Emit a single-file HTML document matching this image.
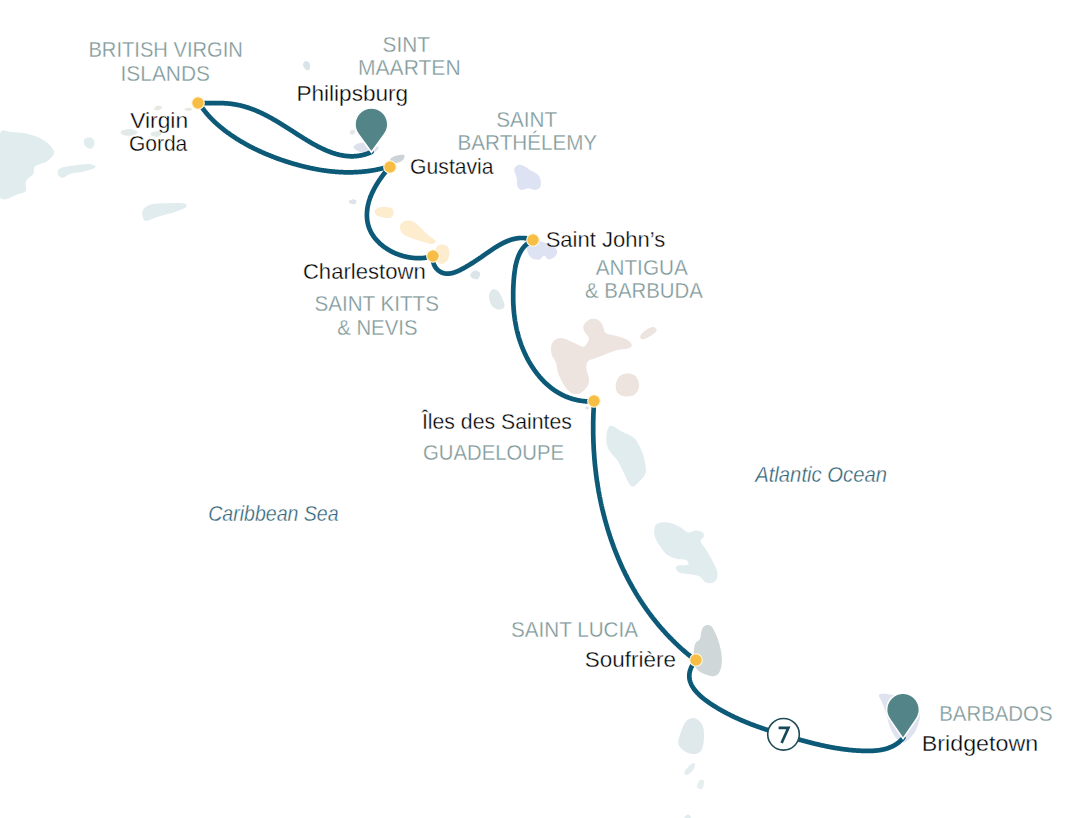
<!DOCTYPE html><html><head><meta charset="utf-8"><style>html,body{margin:0;padding:0;background:#fff;overflow:hidden}svg{display:block}text{font-family:"Liberation Sans",sans-serif}</style></head><body>
<svg width="1080" height="818" viewBox="0 0 1080 818">
<rect width="1080" height="818" fill="#ffffff"/>
<path d="M0.0,133.0 C2.7,127.5 6.4,131.8 11.0,132.0 C15.6,132.2 22.5,132.7 27.8,133.9 C33.1,135.1 38.6,137.1 42.6,139.4 C46.6,141.7 50.0,145.3 51.9,147.8 C53.8,150.3 54.6,152.0 53.7,154.3 C52.8,156.6 49.4,159.7 46.3,161.7 C43.2,163.7 37.4,164.3 35.2,166.3 C33.0,168.3 34.8,171.2 33.3,173.7 C31.7,176.2 27.1,178.3 25.9,181.1 C24.7,183.9 27.1,188.2 25.9,190.4 C24.7,192.6 22.8,192.9 18.5,194.1 C14.2,195.3 3.9,202.7 0.0,197.8 C-3.9,193.0 -5.0,175.8 -5.0,165.0 C-5.0,154.2 -2.7,138.5 0.0,133.0Z" fill="#e0ecee"/>
<path d="M84.0,140.0 C84.5,138.6 86.5,137.8 88.0,137.6 C89.5,137.4 91.9,137.9 93.0,139.0 C94.1,140.1 94.7,142.4 94.4,144.0 C94.1,145.6 92.6,148.4 91.0,148.7 C89.4,149.0 86.2,147.4 85.0,146.0 C83.8,144.6 83.5,141.4 84.0,140.0Z" fill="#e0ecee"/>
<path d="M58.3,170.0 C59.1,168.6 60.4,168.0 63.0,167.2 C65.6,166.4 69.7,165.9 74.0,165.4 C78.3,164.9 85.3,163.8 88.9,164.0 C92.5,164.2 94.8,165.5 95.4,166.3 C96.0,167.1 94.9,168.1 92.6,169.0 C90.3,169.9 85.2,171.1 81.5,171.9 C77.8,172.7 73.5,172.7 70.4,173.7 C67.3,174.7 65.0,177.5 63.0,177.8 C61.0,178.1 59.1,176.9 58.3,175.6 C57.5,174.3 57.5,171.4 58.3,170.0Z" fill="#e0ecee"/>
<path d="M143.5,208.9 C145.1,206.9 148.0,205.2 151.9,204.3 C155.8,203.4 161.5,203.5 166.7,203.3 C171.9,203.1 180.1,202.7 183.3,203.3 C186.5,203.9 187.3,205.6 186.1,207.0 C184.9,208.4 180.4,210.1 175.9,211.7 C171.4,213.2 164.2,214.8 159.3,216.3 C154.4,217.8 149.1,220.9 146.3,220.9 C143.5,220.9 143.1,218.3 142.6,216.3 C142.1,214.3 141.9,210.9 143.5,208.9Z" fill="#e0ecee"/>
<path d="M121.0,131.0 C122.2,130.0 127.2,128.7 130.0,128.9 C132.8,129.1 137.5,130.9 137.8,132.0 C138.1,133.1 134.5,135.1 132.0,135.6 C129.5,136.1 124.8,135.8 123.0,135.0 C121.2,134.2 119.8,132.0 121.0,131.0Z" fill="#e3ebea"/>
<path d="M151.0,133.0 C151.8,132.2 155.2,131.0 157.0,131.0 C158.8,131.0 161.8,132.1 162.0,133.0 C162.2,133.9 159.7,136.2 158.0,136.7 C156.3,137.2 153.2,136.6 152.0,136.0 C150.8,135.4 150.2,133.8 151.0,133.0Z" fill="#e3ebea"/>
<path d="M154.4,108.0 C154.9,107.3 156.7,105.7 158.0,105.6 C159.3,105.5 162.0,106.8 162.2,107.5 C162.4,108.2 160.2,109.6 159.0,110.0 C157.8,110.4 155.8,110.3 155.0,110.0 C154.2,109.7 153.9,108.7 154.4,108.0Z" fill="#e9e8e0"/>
<path d="M184.4,109.0 C184.7,108.5 188.7,107.6 190.0,107.8 C191.3,108.0 192.3,109.5 192.0,110.0 C191.7,110.5 189.3,111.2 188.0,111.0 C186.7,110.8 184.1,109.5 184.4,109.0Z" fill="#e9e8e0"/>
<path d="M303.0,64.0 C303.2,62.7 304.8,61.0 306.0,61.0 C307.2,61.0 309.5,62.5 310.0,64.0 C310.5,65.5 309.8,69.2 309.0,70.0 C308.2,70.8 306.0,70.0 305.0,69.0 C304.0,68.0 302.8,65.3 303.0,64.0Z" fill="#d9e4e8"/>
<path d="M349.5,132.0 C349.7,131.2 352.0,129.7 353.0,129.7 C354.0,129.7 355.7,131.2 355.5,132.0 C355.3,132.8 353.0,134.8 352.0,134.8 C351.0,134.8 349.3,132.8 349.5,132.0Z" fill="#e3e6ec"/>
<path d="M353.5,147.0 C353.5,145.5 356.9,143.5 360.0,143.0 C363.1,142.5 368.9,143.2 372.0,144.0 C375.1,144.8 378.8,146.5 378.8,148.0 C378.8,149.5 375.1,152.3 372.0,153.0 C368.9,153.7 363.1,153.0 360.0,152.0 C356.9,151.0 353.5,148.5 353.5,147.0Z" fill="#dde1ee"/>
<path d="M390.0,160.0 C389.8,158.8 392.7,156.8 395.0,156.0 C397.3,155.2 402.7,154.3 404.0,155.0 C405.3,155.7 404.3,158.7 403.0,160.0 C401.7,161.3 398.2,163.0 396.0,163.0 C393.8,163.0 390.2,161.2 390.0,160.0Z" fill="#cdd3d8"/>
<path d="M348.5,202.0 C348.2,201.2 350.6,199.6 352.0,199.4 C353.4,199.2 356.3,200.2 356.6,201.0 C356.9,201.8 355.4,204.2 354.0,204.4 C352.6,204.6 348.8,202.8 348.5,202.0Z" fill="#dbe4e8"/>
<path d="M374.5,211.0 C374.8,209.5 377.2,207.7 380.0,207.2 C382.8,206.7 388.7,207.0 391.0,208.0 C393.3,209.0 393.8,211.3 393.6,213.0 C393.4,214.7 392.6,217.5 390.0,218.0 C387.4,218.5 380.6,217.2 378.0,216.0 C375.4,214.8 374.2,212.5 374.5,211.0Z" fill="#fdecce"/>
<path d="M400.0,226.0 C400.3,224.1 402.0,222.3 404.0,221.5 C406.0,220.7 409.3,220.1 412.0,221.0 C414.7,221.9 417.3,224.7 420.0,227.0 C422.7,229.3 425.4,232.7 428.0,235.0 C430.6,237.3 434.9,239.5 435.6,241.0 C436.3,242.5 433.9,243.8 432.0,244.0 C430.1,244.2 427.5,243.0 424.0,242.0 C420.5,241.0 414.7,239.5 411.0,238.0 C407.3,236.5 403.8,235.0 402.0,233.0 C400.2,231.0 399.7,227.9 400.0,226.0Z" fill="#fdecce"/>
<path d="M436.0,248.0 C437.0,245.8 439.2,244.8 441.0,244.5 C442.8,244.2 445.6,244.6 447.0,246.0 C448.4,247.4 449.4,250.5 449.4,253.0 C449.4,255.5 448.6,259.2 447.0,261.0 C445.4,262.8 442.0,264.3 440.0,263.8 C438.0,263.3 435.7,260.6 435.0,258.0 C434.3,255.4 435.0,250.2 436.0,248.0Z" fill="#fdecce"/>
<path d="M470.5,274.0 C471.0,272.8 473.4,270.8 475.0,270.6 C476.6,270.4 479.5,271.6 480.0,273.0 C480.5,274.4 479.3,278.2 478.0,279.0 C476.7,279.8 473.2,278.8 472.0,278.0 C470.8,277.2 470.0,275.2 470.5,274.0Z" fill="#dbe4e8"/>
<path d="M489.0,296.0 C489.0,293.3 490.5,290.5 492.0,289.7 C493.5,288.9 496.2,289.3 498.0,291.0 C499.8,292.7 501.9,297.3 503.0,300.0 C504.1,302.7 505.1,305.4 504.4,307.0 C503.7,308.6 501.1,309.8 499.0,309.6 C496.9,309.4 493.7,308.3 492.0,306.0 C490.3,303.7 489.0,298.7 489.0,296.0Z" fill="#dfe9ec"/>
<path d="M514.2,169.2 C514.5,167.0 516.8,165.6 518.3,165.0 C519.8,164.4 521.3,165.0 523.3,165.8 C525.2,166.6 527.5,168.5 530.0,170.0 C532.5,171.5 536.5,173.1 538.3,175.0 C540.1,176.9 540.5,179.6 540.8,181.7 C541.1,183.8 541.0,186.1 540.0,187.5 C539.0,188.9 537.0,189.9 535.0,190.0 C533.0,190.1 530.5,188.3 528.3,188.3 C526.1,188.3 523.5,190.3 521.7,190.0 C519.9,189.7 518.3,188.6 517.5,186.7 C516.7,184.8 517.2,181.2 516.7,178.3 C516.2,175.4 513.9,171.4 514.2,169.2Z" fill="#dee3f3"/>
<path d="M684.5,819.0 C683.7,818.4 685.2,816.2 686.0,815.5 C686.8,814.8 688.2,814.2 689.0,814.8 C689.8,815.4 691.8,818.3 691.0,819.0 C690.2,819.7 685.3,819.6 684.5,819.0Z" fill="#e0ecee"/>
<path d="M527.2,244.0 C528.4,241.8 532.4,239.8 535.2,239.5 C538.0,239.2 541.1,241.5 544.0,242.5 C546.9,243.5 550.6,243.9 552.8,245.4 C555.0,246.9 557.0,249.3 557.2,251.3 C557.5,253.3 555.8,255.8 554.3,257.2 C552.8,258.5 550.1,259.6 548.4,259.4 C546.7,259.1 545.5,255.7 544.0,255.7 C542.5,255.7 541.6,258.9 539.6,259.4 C537.6,259.9 534.2,259.7 532.3,258.6 C530.3,257.5 528.8,255.2 527.9,252.8 C527.0,250.4 526.0,246.2 527.2,244.0Z" fill="#dee3f3"/>
<path d="M551.6,344.2 C552.5,341.6 555.0,339.6 557.1,338.7 C559.2,337.8 561.6,338.0 564.5,338.7 C567.4,339.4 571.2,341.7 574.2,343.0 C577.2,344.3 580.8,346.5 582.8,346.7 C584.8,346.9 585.5,345.6 586.5,344.2 C587.5,342.8 589.3,340.3 588.9,338.1 C588.5,335.9 584.8,333.0 584.0,330.8 C583.2,328.6 583.0,326.6 584.0,324.7 C585.0,322.8 587.9,320.0 590.1,319.2 C592.4,318.4 595.5,318.9 597.5,319.8 C599.5,320.7 601.0,322.5 602.4,324.7 C603.8,326.9 603.8,331.4 606.0,333.2 C608.2,335.0 612.3,334.7 615.8,335.7 C619.3,336.7 624.1,338.0 626.8,339.4 C629.4,340.8 631.3,342.8 631.7,344.2 C632.1,345.6 631.9,346.9 629.3,347.9 C626.6,348.9 620.5,349.1 615.8,350.4 C611.1,351.7 604.6,354.6 601.1,355.9 C597.6,357.2 597.2,357.4 595.0,358.3 C592.8,359.2 589.1,359.7 587.7,361.4 C586.3,363.1 586.3,365.8 586.5,368.7 C586.7,371.6 588.7,375.6 588.9,378.5 C589.1,381.4 589.1,383.4 587.7,385.8 C586.3,388.2 583.0,392.0 580.4,393.2 C577.8,394.4 574.4,394.4 571.8,393.2 C569.1,392.0 566.8,389.1 564.5,385.8 C562.2,382.5 559.7,377.5 558.3,373.6 C556.9,369.7 557.0,365.9 555.9,362.6 C554.8,359.3 552.3,357.1 551.6,354.0 C550.9,350.9 550.7,346.8 551.6,344.2Z" fill="#ede3df"/>
<path d="M616.0,383.0 C616.7,380.2 618.7,376.6 621.0,375.0 C623.3,373.4 627.3,373.1 630.0,373.6 C632.7,374.1 635.5,375.8 637.0,378.0 C638.5,380.2 639.5,384.2 639.0,387.0 C638.5,389.8 636.5,393.5 634.0,395.0 C631.5,396.5 626.8,396.7 624.0,396.2 C621.2,395.7 618.3,394.2 617.0,392.0 C615.7,389.8 615.3,385.8 616.0,383.0Z" fill="#ede3df"/>
<path d="M640.3,336.0 C640.8,334.4 643.9,331.5 646.0,330.0 C648.1,328.5 651.2,327.1 653.0,327.1 C654.8,327.1 657.0,328.7 656.8,330.0 C656.6,331.3 654.3,333.4 652.0,335.0 C649.7,336.6 645.0,339.2 643.0,339.4 C641.0,339.6 639.8,337.6 640.3,336.0Z" fill="#ede3df"/>
<path d="M585.0,407.5 C585.3,407.1 587.3,406.4 588.0,406.6 C588.7,406.9 589.3,408.6 589.0,409.0 C588.7,409.4 586.7,409.2 586.0,409.0 C585.3,408.8 584.7,407.9 585.0,407.5Z" fill="#e3e3e6"/>
<path d="M608.6,427.4 C609.8,425.5 610.9,425.5 613.2,426.3 C615.5,427.1 619.0,430.2 622.5,432.1 C626.0,434.0 631.0,435.0 634.1,437.9 C637.2,440.8 639.4,445.6 641.1,449.5 C642.9,453.4 643.8,457.2 644.6,461.1 C645.4,465.0 646.5,469.4 645.7,472.7 C644.9,476.0 642.2,478.5 639.9,480.8 C637.6,483.1 634.3,487.6 631.8,486.6 C629.3,485.6 627.1,479.2 624.8,475.0 C622.5,470.8 620.6,465.4 617.9,461.1 C615.2,456.9 610.5,453.4 608.6,449.5 C606.7,445.6 606.3,441.6 606.3,437.9 C606.3,434.2 607.5,429.3 608.6,427.4Z" fill="#e0ecee"/>
<path d="M654.8,526.6 C655.6,524.3 657.3,523.4 659.7,522.7 C662.1,522.1 666.1,522.1 669.4,522.7 C672.6,523.4 676.1,525.0 679.2,526.6 C682.3,528.2 685.2,531.9 688.0,532.5 C690.8,533.1 693.4,530.5 695.9,530.5 C698.4,530.5 701.4,531.5 702.7,532.5 C704.0,533.5 704.0,534.9 703.7,536.4 C703.4,537.9 700.4,539.2 700.7,541.3 C701.0,543.4 703.6,545.8 705.6,549.1 C707.6,552.4 710.7,557.6 712.5,560.9 C714.3,564.2 715.6,566.1 716.4,568.7 C717.2,571.3 717.9,574.2 717.4,576.5 C716.9,578.8 715.5,581.4 713.5,582.4 C711.5,583.4 707.9,583.4 705.6,582.4 C703.3,581.4 702.1,577.8 699.8,576.5 C697.5,575.2 694.8,575.0 691.9,574.5 C689.0,574.0 684.8,574.4 682.2,573.6 C679.6,572.8 677.1,571.0 676.3,569.7 C675.5,568.4 675.3,566.5 677.3,565.7 C679.2,564.9 686.5,565.8 688.0,564.8 C689.5,563.8 687.9,560.9 686.1,559.9 C684.3,558.9 680.4,559.7 677.3,558.9 C674.2,558.1 670.3,557.0 667.5,555.0 C664.7,553.0 662.7,550.3 660.6,547.2 C658.5,544.1 655.8,539.8 654.8,536.4 C653.8,533.0 654.0,528.9 654.8,526.6Z" fill="#e0ecee"/>
<path d="M707.7,625.0 C709.0,625.0 710.3,625.2 711.6,626.6 C712.9,628.0 714.3,631.1 715.5,633.6 C716.7,636.1 717.7,638.6 718.6,641.5 C719.5,644.4 720.5,647.9 721.0,650.9 C721.5,653.9 721.8,656.6 721.8,659.5 C721.8,662.4 721.6,665.6 721.0,668.1 C720.4,670.6 719.3,672.9 717.9,674.3 C716.5,675.7 714.5,676.3 712.4,676.3 C710.3,676.3 707.5,675.1 705.3,674.3 C703.1,673.4 700.9,672.8 699.1,671.2 C697.3,669.7 695.3,667.7 694.4,665.0 C693.5,662.3 693.5,658.3 693.6,654.8 C693.7,651.3 694.2,646.4 695.2,643.8 C696.2,641.2 698.9,641.2 699.9,639.1 C700.9,637.0 700.8,633.4 701.4,631.3 C702.0,629.2 702.8,627.6 703.8,626.6 C704.8,625.6 706.4,625.0 707.7,625.0Z" fill="#cfd7d9"/>
<path d="M679.7,735.4 C680.9,731.6 683.3,724.8 685.6,721.9 C687.9,719.0 691.0,717.7 693.7,718.0 C696.4,718.3 700.1,720.9 701.8,723.8 C703.5,726.7 704.1,731.1 704.1,735.4 C704.1,739.7 703.3,746.3 701.8,749.4 C700.2,752.5 697.5,753.6 694.8,754.0 C692.1,754.4 688.3,753.2 685.6,751.7 C682.9,750.2 679.6,747.4 678.6,744.7 C677.6,742.0 678.5,739.2 679.7,735.4Z" fill="#dfe9ec"/>
<path d="M684.4,772.0 C684.9,770.3 688.3,766.5 690.0,765.0 C691.7,763.5 694.3,762.5 694.8,763.3 C695.3,764.1 694.3,768.0 693.0,770.0 C691.7,772.0 688.4,774.7 687.0,775.0 C685.6,775.3 683.9,773.7 684.4,772.0Z" fill="#e3ecef"/>
<path d="M697.0,787.0 C696.7,785.5 698.8,781.0 700.0,780.0 C701.2,779.0 703.7,779.5 704.0,781.0 C704.3,782.5 703.2,788.0 702.0,789.0 C700.8,790.0 697.3,788.5 697.0,787.0Z" fill="#e6eef0"/>
<path d="M879.0,695.0 C879.8,693.7 883.5,693.7 887.0,694.0 C890.5,694.3 895.3,695.5 900.0,697.0 C904.7,698.5 911.7,700.0 915.0,703.0 C918.3,706.0 919.8,710.5 920.0,715.0 C920.2,719.5 918.0,725.8 916.0,730.0 C914.0,734.2 910.3,737.9 908.0,740.0 C905.7,742.1 904.0,742.8 902.0,742.5 C900.0,742.2 898.0,740.6 896.0,738.0 C894.0,735.4 891.7,731.2 890.0,727.0 C888.3,722.8 887.3,717.2 886.0,713.0 C884.7,708.8 883.2,705.0 882.0,702.0 C880.8,699.0 878.2,696.3 879.0,695.0Z" fill="#dfe2ef"/>
<path d="M198.9,102.7 L199.3,102.8 L199.8,102.8 L200.2,102.9 L200.7,102.9 L201.1,102.9 L201.6,103.0 L202.0,103.0 L202.5,103.0 L202.9,103.1 L203.4,103.1 L203.8,103.1 L204.3,103.1 L204.7,103.1 L205.2,103.2 L205.6,103.2 L206.1,103.2 L206.5,103.2 L207.0,103.2 L207.5,103.2 L207.9,103.2 L208.4,103.2 L208.8,103.2 L209.3,103.2 L209.8,103.2 L210.2,103.2 L210.7,103.2 L211.1,103.2 L211.6,103.2 L212.1,103.2 L212.5,103.2 L213.0,103.2 L213.5,103.2 L213.9,103.2 L214.4,103.2 L214.9,103.2 L215.3,103.2 L215.8,103.1 L216.3,103.1 L216.7,103.1 L217.2,103.1 L217.7,103.1 L218.2,103.1 L218.6,103.1 L219.1,103.1 L219.6,103.1 L220.0,103.1 L220.5,103.1 L221.0,103.1 L221.4,103.2 L221.9,103.2 L222.4,103.2 L222.9,103.2 L223.3,103.2 L223.8,103.2 L224.3,103.2 L224.7,103.3 L225.2,103.3 L225.7,103.3 L226.1,103.4 L226.6,103.4 L227.1,103.4 L227.5,103.5 L228.0,103.5 L228.5,103.5 L228.9,103.6 L229.4,103.6 L229.9,103.7 L230.3,103.7 L230.8,103.8 L231.3,103.9 L231.7,103.9 L232.2,104.0 L232.7,104.1 L233.1,104.1 L233.6,104.2 L234.0,104.3 L234.5,104.3 L235.0,104.4 L235.4,104.5 L235.9,104.6 L236.3,104.7 L236.8,104.8 L237.2,104.8 L237.7,104.9 L238.2,105.0 L238.6,105.1 L239.1,105.2 L239.5,105.3 L240.0,105.4 L240.4,105.5 L240.9,105.6 L241.3,105.7 L241.8,105.9 L242.2,106.0 L242.7,106.1 L243.1,106.2 L243.6,106.3 L244.0,106.4 L244.5,106.6 L244.9,106.7 L245.3,106.8 L245.8,107.0 L246.2,107.1 L246.7,107.2 L247.1,107.4 L247.5,107.5 L248.0,107.6 L248.4,107.8 L248.8,107.9 L249.3,108.1 L249.7,108.2 L250.1,108.4 L250.6,108.5 L251.0,108.7 L251.4,108.8 L251.9,109.0 L252.3,109.2 L252.7,109.3 L253.1,109.5 L253.6,109.6 L254.0,109.8 L254.4,110.0 L254.8,110.1 L255.3,110.3 L255.7,110.5 L256.1,110.7 L256.5,110.8 L256.9,111.0 L257.4,111.2 L257.8,111.4 L258.2,111.6 L258.6,111.8 L259.0,111.9 L259.5,112.1 L259.9,112.3 L260.3,112.5 L260.7,112.7 L261.1,112.9 L261.5,113.1 L261.9,113.3 L262.4,113.5 L262.8,113.7 L263.2,113.9 L263.6,114.1 L264.0,114.3 L264.4,114.5 L264.8,114.7 L265.2,114.9 L265.6,115.1 L266.0,115.3 L266.5,115.5 L266.9,115.8 L267.3,116.0 L267.7,116.2 L268.1,116.4 L268.5,116.6 L268.9,116.8 L269.3,117.1 L269.7,117.3 L270.1,117.5 L270.5,117.7 L270.9,117.9 L271.3,118.2 L271.7,118.4 L272.1,118.6 L272.5,118.9 L272.9,119.1 L273.3,119.3 L273.7,119.5 L274.1,119.8 L274.5,120.0 L274.9,120.2 L275.3,120.5 L275.7,120.7 L276.1,121.0 L276.5,121.2 L276.9,121.4 L277.3,121.7 L277.7,121.9 L278.1,122.1 L278.5,122.4 L278.9,122.6 L279.3,122.9 L279.7,123.1 L280.1,123.4 L280.5,123.6 L280.9,123.9 L281.3,124.1 L281.7,124.3 L282.1,124.6 L282.5,124.8 L282.9,125.1 L283.3,125.3 L283.7,125.6 L284.1,125.8 L284.5,126.1 L284.9,126.3 L285.3,126.6 L285.7,126.8 L286.1,127.1 L286.5,127.3 L286.9,127.6 L287.3,127.9 L287.7,128.1 L288.1,128.4 L288.5,128.6 L288.9,128.9 L289.3,129.1 L289.7,129.4 L290.1,129.6 L290.5,129.9 L290.9,130.2 L291.3,130.4 L291.7,130.7 L292.1,130.9 L292.5,131.2 L292.9,131.4 L293.3,131.7 L293.7,132.0 L294.1,132.2 L294.5,132.5 L294.9,132.7 L295.3,133.0 L295.7,133.2 L296.1,133.5 L296.5,133.8 L296.9,134.0 L297.3,134.3 L297.7,134.5 L298.1,134.8 L298.5,135.0 L298.9,135.3 L299.4,135.6 L299.8,135.8 L300.2,136.1 L300.6,136.3 L301.0,136.6 L301.4,136.8 L301.8,137.1 L302.2,137.4 L302.6,137.6 L303.0,137.9 L303.4,138.1 L303.8,138.4 L304.3,138.6 L304.7,138.9 L305.1,139.1 L305.5,139.4 L305.9,139.6 L306.3,139.9 L306.7,140.1 L307.1,140.4 L307.6,140.6 L308.0,140.9 L308.4,141.1 L308.8,141.4 L309.2,141.6 L309.6,141.9 L310.0,142.1 L310.5,142.4 L310.9,142.6 L311.3,142.8 L311.7,143.1 L312.1,143.3 L312.5,143.6 L313.0,143.8 L313.4,144.0 L313.8,144.3 L314.2,144.5 L314.6,144.7 L315.1,145.0 L315.5,145.2 L315.9,145.4 L316.3,145.6 L316.8,145.9 L317.2,146.1 L317.6,146.3 L318.0,146.5 L318.4,146.8 L318.9,147.0 L319.3,147.2 L319.7,147.4 L320.1,147.6 L320.6,147.8 L321.0,148.0 L321.4,148.2 L321.8,148.4 L322.3,148.6 L322.7,148.8 L323.1,149.0 L323.6,149.2 L324.0,149.4 L324.4,149.6 L324.8,149.8 L325.3,150.0 L325.7,150.2 L326.1,150.4 L326.6,150.6 L327.0,150.7 L327.4,150.9 L327.9,151.1 L328.3,151.3 L328.7,151.4 L329.1,151.6 L329.6,151.8 L330.0,151.9 L330.4,152.1 L330.9,152.3 L331.3,152.4 L331.7,152.6 L332.2,152.7 L332.6,152.9 L333.1,153.0 L333.5,153.2 L333.9,153.3 L334.4,153.4 L334.8,153.6 L335.2,153.7 L335.7,153.8 L336.1,154.0 L336.5,154.1 L337.0,154.2 L337.4,154.3 L337.9,154.4 L338.3,154.6 L338.7,154.7 L339.2,154.8 L339.6,154.9 L340.1,155.0 L340.5,155.1 L340.9,155.2 L341.4,155.2 L341.8,155.3 L342.3,155.4 L342.7,155.5 L343.1,155.6 L343.6,155.6 L344.0,155.7 L344.5,155.8 L344.9,155.8 L345.4,155.9 L345.8,155.9 L346.2,156.0 L346.7,156.0 L347.1,156.1 L347.6,156.1 L348.0,156.2 L348.5,156.2 L348.9,156.2 L349.4,156.2 L349.8,156.3 L350.2,156.3 L350.7,156.3 L351.1,156.3 L351.6,156.3 L352.0,156.3 L352.5,156.3 L352.9,156.3 L353.4,156.3 L353.8,156.3 L354.3,156.2 L354.7,156.2 L355.2,156.2 L355.6,156.2 L356.1,156.1 L356.5,156.1 L357.0,156.0 L357.4,156.0 L357.9,155.9 L358.3,155.9 L358.8,155.8 L359.2,155.7 L359.7,155.7 L360.1,155.6 L360.6,155.5 L361.0,155.4 L361.5,155.3 L361.9,155.2 L362.4,155.1 L362.8,155.0 L363.3,154.9 L363.8,154.8 L364.2,154.7 L364.7,154.5 L365.1,154.4 L365.6,154.3 L366.0,154.1 L366.5,154.0 L366.9,153.8 L367.4,153.7 L367.8,153.5 L368.3,153.3 L368.8,153.2 L369.2,153.0 L369.7,152.8 L370.1,152.6 L370.6,152.4 L371.0,152.2 L371.5,152.0" fill="none" stroke="#0c5a78" stroke-width="4.7" stroke-linecap="round" stroke-linejoin="round"/>
<path d="M198.9,102.7 L199.2,103.1 L199.4,103.6 L199.7,104.0 L200.0,104.5 L200.3,104.9 L200.6,105.4 L200.9,105.8 L201.2,106.2 L201.5,106.7 L201.8,107.1 L202.1,107.5 L202.4,107.9 L202.7,108.4 L203.0,108.8 L203.3,109.2 L203.6,109.6 L203.9,110.0 L204.2,110.4 L204.6,110.8 L204.9,111.3 L205.2,111.7 L205.5,112.1 L205.9,112.5 L206.2,112.9 L206.5,113.3 L206.9,113.7 L207.2,114.1 L207.5,114.5 L207.9,114.9 L208.2,115.3 L208.6,115.6 L208.9,116.0 L209.3,116.4 L209.6,116.8 L210.0,117.2 L210.3,117.6 L210.7,117.9 L211.0,118.3 L211.4,118.7 L211.8,119.1 L212.1,119.4 L212.5,119.8 L212.9,120.2 L213.2,120.5 L213.6,120.9 L214.0,121.3 L214.4,121.6 L214.7,122.0 L215.1,122.4 L215.5,122.7 L215.9,123.1 L216.3,123.4 L216.7,123.8 L217.1,124.1 L217.5,124.5 L217.8,124.8 L218.2,125.2 L218.6,125.5 L219.0,125.9 L219.4,126.2 L219.8,126.5 L220.2,126.9 L220.6,127.2 L221.1,127.5 L221.5,127.9 L221.9,128.2 L222.3,128.5 L222.7,128.9 L223.1,129.2 L223.5,129.5 L223.9,129.8 L224.4,130.2 L224.8,130.5 L225.2,130.8 L225.6,131.1 L226.0,131.4 L226.5,131.8 L226.9,132.1 L227.3,132.4 L227.8,132.7 L228.2,133.0 L228.6,133.3 L229.1,133.6 L229.5,133.9 L229.9,134.2 L230.4,134.6 L230.8,134.9 L231.2,135.2 L231.7,135.5 L232.1,135.8 L232.6,136.1 L233.0,136.4 L233.4,136.6 L233.9,136.9 L234.3,137.2 L234.8,137.5 L235.2,137.8 L235.7,138.1 L236.1,138.4 L236.6,138.7 L237.0,139.0 L237.5,139.2 L237.9,139.5 L238.4,139.8 L238.9,140.1 L239.3,140.4 L239.8,140.7 L240.2,140.9 L240.7,141.2 L241.2,141.5 L241.6,141.8 L242.1,142.0 L242.5,142.3 L243.0,142.6 L243.5,142.8 L243.9,143.1 L244.4,143.4 L244.9,143.6 L245.4,143.9 L245.8,144.2 L246.3,144.4 L246.8,144.7 L247.2,144.9 L247.7,145.2 L248.2,145.4 L248.7,145.7 L249.1,146.0 L249.6,146.2 L250.1,146.5 L250.6,146.7 L251.1,147.0 L251.5,147.2 L252.0,147.5 L252.5,147.7 L253.0,147.9 L253.5,148.2 L254.0,148.4 L254.4,148.7 L254.9,148.9 L255.4,149.1 L255.9,149.4 L256.4,149.6 L256.9,149.9 L257.4,150.1 L257.8,150.3 L258.3,150.6 L258.8,150.8 L259.3,151.0 L259.8,151.2 L260.3,151.5 L260.8,151.7 L261.3,151.9 L261.8,152.1 L262.3,152.4 L262.8,152.6 L263.3,152.8 L263.8,153.0 L264.3,153.2 L264.8,153.4 L265.3,153.7 L265.8,153.9 L266.3,154.1 L266.8,154.3 L267.3,154.5 L267.8,154.7 L268.3,154.9 L268.8,155.1 L269.3,155.3 L269.8,155.5 L270.3,155.7 L270.8,155.9 L271.3,156.1 L271.8,156.3 L272.3,156.5 L272.8,156.7 L273.3,156.9 L273.8,157.1 L274.3,157.3 L274.9,157.5 L275.4,157.7 L275.9,157.9 L276.4,158.1 L276.9,158.3 L277.4,158.5 L277.9,158.7 L278.4,158.8 L278.9,159.0 L279.5,159.2 L280.0,159.4 L280.5,159.6 L281.0,159.7 L281.5,159.9 L282.0,160.1 L282.5,160.3 L283.0,160.4 L283.6,160.6 L284.1,160.8 L284.6,161.0 L285.1,161.1 L285.6,161.3 L286.1,161.5 L286.7,161.6 L287.2,161.8 L287.7,162.0 L288.2,162.1 L288.7,162.3 L289.2,162.5 L289.8,162.6 L290.3,162.8 L290.8,162.9 L291.3,163.1 L291.8,163.2 L292.4,163.4 L292.9,163.6 L293.4,163.7 L293.9,163.9 L294.4,164.0 L294.9,164.2 L295.5,164.3 L296.0,164.4 L296.5,164.6 L297.0,164.7 L297.5,164.9 L298.1,165.0 L298.6,165.2 L299.1,165.3 L299.6,165.4 L300.2,165.6 L300.7,165.7 L301.2,165.9 L301.7,166.0 L302.2,166.1 L302.8,166.2 L303.3,166.4 L303.8,166.5 L304.3,166.6 L304.8,166.8 L305.4,166.9 L305.9,167.0 L306.4,167.1 L306.9,167.3 L307.5,167.4 L308.0,167.5 L308.5,167.6 L309.0,167.7 L309.5,167.8 L310.1,168.0 L310.6,168.1 L311.1,168.2 L311.6,168.3 L312.2,168.4 L312.7,168.5 L313.2,168.6 L313.7,168.7 L314.3,168.8 L314.8,168.9 L315.3,169.0 L315.8,169.1 L316.4,169.2 L316.9,169.3 L317.4,169.4 L317.9,169.5 L318.5,169.6 L319.0,169.7 L319.5,169.8 L320.0,169.9 L320.6,170.0 L321.1,170.0 L321.6,170.1 L322.1,170.2 L322.7,170.3 L323.2,170.4 L323.7,170.5 L324.2,170.5 L324.8,170.6 L325.3,170.7 L325.8,170.7 L326.3,170.8 L326.9,170.9 L327.4,171.0 L327.9,171.0 L328.4,171.1 L329.0,171.1 L329.5,171.2 L330.0,171.3 L330.5,171.3 L331.1,171.4 L331.6,171.4 L332.1,171.5 L332.7,171.5 L333.2,171.6 L333.7,171.6 L334.2,171.7 L334.8,171.7 L335.3,171.8 L335.8,171.8 L336.3,171.9 L336.9,171.9 L337.4,171.9 L337.9,172.0 L338.5,172.0 L339.0,172.0 L339.5,172.1 L340.0,172.1 L340.6,172.1 L341.1,172.2 L341.6,172.2 L342.1,172.2 L342.7,172.2 L343.2,172.2 L343.7,172.3 L344.3,172.3 L344.8,172.3 L345.3,172.3 L345.8,172.3 L346.4,172.3 L346.9,172.3 L347.4,172.3 L348.0,172.3 L348.5,172.3 L349.0,172.3 L349.5,172.3 L350.1,172.3 L350.6,172.3 L351.1,172.3 L351.7,172.3 L352.2,172.3 L352.7,172.3 L353.2,172.3 L353.8,172.2 L354.3,172.2 L354.8,172.2 L355.4,172.2 L355.9,172.2 L356.4,172.1 L357.0,172.1 L357.5,172.1 L358.0,172.0 L358.5,172.0 L359.1,172.0 L359.6,171.9 L360.1,171.9 L360.7,171.9 L361.2,171.8 L361.7,171.8 L362.2,171.7 L362.8,171.7 L363.3,171.6 L363.8,171.6 L364.4,171.5 L364.9,171.4 L365.4,171.4 L365.9,171.3 L366.5,171.3 L367.0,171.2 L367.5,171.1 L368.1,171.1 L368.6,171.0 L369.1,170.9 L369.7,170.8 L370.2,170.8 L370.7,170.7 L371.2,170.6 L371.8,170.5 L372.3,170.4 L372.8,170.3 L373.4,170.3 L373.9,170.2 L374.4,170.1 L374.9,170.0 L375.5,169.9 L376.0,169.8 L376.5,169.7 L377.1,169.6 L377.6,169.4 L378.1,169.3 L378.7,169.2 L379.2,169.1 L379.7,169.0 L380.2,168.9 L380.8,168.8 L381.3,168.6 L381.8,168.5 L382.4,168.4 L382.9,168.3 L383.4,168.1 L383.9,168.0 L384.5,167.8 L385.0,167.7 L385.5,167.6 L386.1,167.4 L386.6,167.3 L387.1,167.1 L387.7,167.0 L388.2,166.8 L388.7,166.7 L389.2,166.5 L389.8,166.4 L390.3,166.2" fill="none" stroke="#0c5a78" stroke-width="4.7" stroke-linecap="round" stroke-linejoin="round"/>
<path d="M390.3,166.2 L390.1,166.4 L389.9,166.7 L389.6,166.9 L389.4,167.2 L389.2,167.5 L389.0,167.7 L388.8,168.0 L388.5,168.2 L388.3,168.5 L388.1,168.7 L387.9,169.0 L387.7,169.3 L387.4,169.5 L387.2,169.8 L387.0,170.1 L386.8,170.3 L386.5,170.6 L386.3,170.9 L386.1,171.1 L385.9,171.4 L385.7,171.7 L385.4,172.0 L385.2,172.3 L385.0,172.5 L384.8,172.8 L384.5,173.1 L384.3,173.4 L384.1,173.7 L383.9,174.0 L383.7,174.2 L383.4,174.5 L383.2,174.8 L383.0,175.1 L382.8,175.4 L382.5,175.7 L382.3,176.0 L382.1,176.3 L381.9,176.6 L381.7,176.9 L381.5,177.2 L381.2,177.5 L381.0,177.8 L380.8,178.1 L380.6,178.4 L380.4,178.7 L380.2,179.0 L380.0,179.3 L379.7,179.6 L379.5,180.0 L379.3,180.3 L379.1,180.6 L378.9,180.9 L378.7,181.2 L378.5,181.5 L378.3,181.8 L378.1,182.1 L377.9,182.5 L377.7,182.8 L377.5,183.1 L377.3,183.4 L377.1,183.8 L376.9,184.1 L376.7,184.4 L376.5,184.7 L376.3,185.0 L376.1,185.4 L375.9,185.7 L375.7,186.0 L375.5,186.4 L375.3,186.7 L375.1,187.0 L375.0,187.3 L374.8,187.7 L374.6,188.0 L374.4,188.3 L374.2,188.7 L374.1,189.0 L373.9,189.4 L373.7,189.7 L373.5,190.0 L373.4,190.4 L373.2,190.7 L373.0,191.0 L372.9,191.4 L372.7,191.7 L372.5,192.1 L372.4,192.4 L372.2,192.7 L372.1,193.1 L371.9,193.4 L371.7,193.8 L371.6,194.1 L371.4,194.5 L371.3,194.8 L371.2,195.2 L371.0,195.5 L370.9,195.9 L370.7,196.2 L370.6,196.6 L370.5,196.9 L370.3,197.2 L370.2,197.6 L370.1,197.9 L369.9,198.3 L369.8,198.6 L369.7,199.0 L369.6,199.4 L369.5,199.7 L369.3,200.1 L369.2,200.4 L369.1,200.8 L369.0,201.1 L368.9,201.5 L368.8,201.8 L368.7,202.2 L368.6,202.5 L368.5,202.9 L368.4,203.2 L368.4,203.6 L368.3,204.0 L368.2,204.3 L368.1,204.7 L368.0,205.0 L367.9,205.4 L367.9,205.7 L367.8,206.1 L367.7,206.4 L367.7,206.8 L367.6,207.2 L367.5,207.5 L367.5,207.9 L367.4,208.2 L367.4,208.6 L367.3,208.9 L367.3,209.3 L367.2,209.6 L367.2,210.0 L367.2,210.4 L367.1,210.7 L367.1,211.1 L367.1,211.4 L367.0,211.8 L367.0,212.1 L367.0,212.5 L367.0,212.8 L367.0,213.2 L366.9,213.5 L366.9,213.9 L366.9,214.2 L366.9,214.6 L366.9,214.9 L366.9,215.3 L366.9,215.6 L366.9,216.0 L366.9,216.3 L367.0,216.7 L367.0,217.0 L367.0,217.4 L367.0,217.7 L367.0,218.1 L367.1,218.4 L367.1,218.8 L367.1,219.1 L367.2,219.5 L367.2,219.8 L367.2,220.1 L367.3,220.5 L367.3,220.8 L367.4,221.2 L367.4,221.5 L367.5,221.8 L367.6,222.2 L367.6,222.5 L367.7,222.8 L367.8,223.2 L367.8,223.5 L367.9,223.8 L368.0,224.2 L368.1,224.5 L368.1,224.8 L368.2,225.2 L368.3,225.5 L368.4,225.8 L368.5,226.1 L368.6,226.5 L368.7,226.8 L368.8,227.1 L368.9,227.4 L369.1,227.7 L369.2,228.1 L369.3,228.4 L369.4,228.7 L369.5,229.0 L369.7,229.3 L369.8,229.6 L369.9,229.9 L370.1,230.3 L370.2,230.6 L370.4,230.9 L370.5,231.2 L370.7,231.5 L370.8,231.8 L371.0,232.1 L371.1,232.4 L371.3,232.7 L371.5,233.0 L371.6,233.3 L371.8,233.6 L372.0,233.9 L372.1,234.2 L372.3,234.4 L372.5,234.7 L372.7,235.0 L372.9,235.3 L373.1,235.6 L373.3,235.9 L373.4,236.2 L373.6,236.4 L373.8,236.7 L374.0,237.0 L374.3,237.3 L374.5,237.6 L374.7,237.8 L374.9,238.1 L375.1,238.4 L375.3,238.6 L375.5,238.9 L375.8,239.2 L376.0,239.4 L376.2,239.7 L376.4,240.0 L376.7,240.2 L376.9,240.5 L377.1,240.7 L377.4,241.0 L377.6,241.3 L377.9,241.5 L378.1,241.8 L378.4,242.0 L378.6,242.3 L378.9,242.5 L379.1,242.7 L379.4,243.0 L379.6,243.2 L379.9,243.5 L380.2,243.7 L380.4,243.9 L380.7,244.2 L381.0,244.4 L381.2,244.6 L381.5,244.9 L381.8,245.1 L382.1,245.3 L382.3,245.6 L382.6,245.8 L382.9,246.0 L383.2,246.2 L383.5,246.4 L383.8,246.7 L384.1,246.9 L384.3,247.1 L384.6,247.3 L384.9,247.5 L385.2,247.7 L385.5,247.9 L385.8,248.1 L386.1,248.3 L386.4,248.5 L386.7,248.7 L387.1,248.9 L387.4,249.1 L387.7,249.3 L388.0,249.5 L388.3,249.7 L388.6,249.9 L388.9,250.1 L389.2,250.2 L389.6,250.4 L389.9,250.6 L390.2,250.8 L390.5,251.0 L390.9,251.1 L391.2,251.3 L391.5,251.5 L391.8,251.6 L392.2,251.8 L392.5,252.0 L392.8,252.1 L393.2,252.3 L393.5,252.5 L393.8,252.6 L394.2,252.8 L394.5,252.9 L394.8,253.1 L395.2,253.2 L395.5,253.4 L395.9,253.5 L396.2,253.7 L396.6,253.8 L396.9,253.9 L397.3,254.1 L397.6,254.2 L397.9,254.3 L398.3,254.5 L398.6,254.6 L399.0,254.7 L399.4,254.8 L399.7,255.0 L400.1,255.1 L400.4,255.2 L400.8,255.3 L401.1,255.4 L401.5,255.5 L401.8,255.6 L402.2,255.8 L402.6,255.9 L402.9,256.0 L403.3,256.1 L403.6,256.2 L404.0,256.3 L404.4,256.3 L404.7,256.4 L405.1,256.5 L405.5,256.6 L405.8,256.7 L406.2,256.8 L406.5,256.9 L406.9,256.9 L407.3,257.0 L407.6,257.1 L408.0,257.2 L408.4,257.2 L408.7,257.3 L409.1,257.4 L409.5,257.4 L409.9,257.5 L410.2,257.5 L410.6,257.6 L411.0,257.6 L411.3,257.7 L411.7,257.7 L412.1,257.8 L412.4,257.8 L412.8,257.9 L413.2,257.9 L413.6,257.9 L413.9,258.0 L414.3,258.0 L414.7,258.0 L415.0,258.0 L415.4,258.1 L415.8,258.1 L416.1,258.1 L416.5,258.1 L416.9,258.1 L417.3,258.1 L417.6,258.1 L418.0,258.2 L418.4,258.2 L418.7,258.2 L419.1,258.2 L419.5,258.1 L419.8,258.1 L420.2,258.1 L420.6,258.1 L420.9,258.1 L421.3,258.1 L421.7,258.1 L422.1,258.0 L422.4,258.0 L422.8,258.0 L423.2,258.0 L423.5,257.9 L423.9,257.9 L424.2,257.8 L424.6,257.8 L425.0,257.8 L425.3,257.7 L425.7,257.7 L426.1,257.6 L426.4,257.6 L426.8,257.5 L427.1,257.4 L427.5,257.4 L427.9,257.3 L428.2,257.2 L428.6,257.2 L428.9,257.1 L429.3,257.0 L429.6,256.9 L430.0,256.9 L430.4,256.8 L430.7,256.7 L431.1,256.6 L431.4,256.5 L431.8,256.4 L432.1,256.3 L432.5,256.2 L432.8,256.1" fill="none" stroke="#0c5a78" stroke-width="4.7" stroke-linecap="round" stroke-linejoin="round"/>
<path d="M432.8,256.1 L432.8,256.5 L432.8,256.9 L432.8,257.3 L432.8,257.7 L432.8,258.0 L432.8,258.4 L432.8,258.8 L432.8,259.2 L432.9,259.5 L432.9,259.9 L432.9,260.2 L433.0,260.6 L433.0,260.9 L433.1,261.3 L433.2,261.6 L433.2,262.0 L433.3,262.3 L433.4,262.6 L433.5,262.9 L433.6,263.2 L433.7,263.5 L433.8,263.9 L433.9,264.2 L434.0,264.5 L434.1,264.7 L434.2,265.0 L434.4,265.3 L434.5,265.6 L434.6,265.9 L434.8,266.1 L434.9,266.4 L435.1,266.7 L435.2,266.9 L435.4,267.2 L435.6,267.4 L435.7,267.7 L435.9,267.9 L436.1,268.1 L436.2,268.4 L436.4,268.6 L436.6,268.8 L436.8,269.0 L437.0,269.2 L437.2,269.4 L437.4,269.6 L437.6,269.8 L437.8,270.0 L438.0,270.2 L438.2,270.4 L438.4,270.6 L438.7,270.7 L438.9,270.9 L439.1,271.1 L439.3,271.2 L439.6,271.4 L439.8,271.5 L440.0,271.7 L440.3,271.8 L440.5,271.9 L440.7,272.1 L441.0,272.2 L441.2,272.3 L441.5,272.4 L441.7,272.5 L442.0,272.6 L442.2,272.7 L442.5,272.8 L442.8,272.9 L443.0,273.0 L443.3,273.1 L443.5,273.2 L443.8,273.2 L444.1,273.3 L444.3,273.4 L444.6,273.4 L444.9,273.5 L445.1,273.5 L445.4,273.5 L445.7,273.6 L446.0,273.6 L446.2,273.6 L446.5,273.7 L446.8,273.7 L447.1,273.7 L447.3,273.7 L447.6,273.7 L447.9,273.7 L448.2,273.7 L448.5,273.7 L448.7,273.6 L449.0,273.6 L449.3,273.6 L449.6,273.6 L449.9,273.5 L450.1,273.5 L450.4,273.4 L450.7,273.4 L451.0,273.3 L451.3,273.3 L451.6,273.2 L451.8,273.2 L452.1,273.1 L452.4,273.0 L452.7,273.0 L453.0,272.9 L453.3,272.8 L453.5,272.7 L453.8,272.6 L454.1,272.5 L454.4,272.4 L454.7,272.3 L455.0,272.2 L455.2,272.1 L455.5,272.0 L455.8,271.9 L456.1,271.8 L456.4,271.7 L456.7,271.6 L456.9,271.5 L457.2,271.4 L457.5,271.2 L457.8,271.1 L458.1,271.0 L458.4,270.9 L458.6,270.7 L458.9,270.6 L459.2,270.5 L459.5,270.3 L459.8,270.2 L460.0,270.1 L460.3,269.9 L460.6,269.8 L460.9,269.6 L461.2,269.5 L461.4,269.3 L461.7,269.2 L462.0,269.1 L462.3,268.9 L462.6,268.8 L462.8,268.6 L463.1,268.5 L463.4,268.3 L463.7,268.2 L463.9,268.0 L464.2,267.9 L464.5,267.7 L464.7,267.6 L465.0,267.4 L465.3,267.3 L465.5,267.1 L465.8,266.9 L466.1,266.8 L466.3,266.6 L466.6,266.5 L466.9,266.3 L467.1,266.2 L467.4,266.0 L467.7,265.9 L467.9,265.7 L468.2,265.6 L468.5,265.4 L468.7,265.2 L469.0,265.1 L469.2,264.9 L469.5,264.8 L469.8,264.6 L470.0,264.4 L470.3,264.3 L470.5,264.1 L470.8,264.0 L471.1,263.8 L471.3,263.6 L471.6,263.5 L471.8,263.3 L472.1,263.2 L472.4,263.0 L472.6,262.8 L472.9,262.7 L473.1,262.5 L473.4,262.4 L473.6,262.2 L473.9,262.0 L474.1,261.9 L474.4,261.7 L474.7,261.5 L474.9,261.4 L475.2,261.2 L475.4,261.0 L475.7,260.9 L475.9,260.7 L476.2,260.5 L476.4,260.4 L476.7,260.2 L476.9,260.0 L477.2,259.8 L477.5,259.7 L477.7,259.5 L478.0,259.3 L478.2,259.2 L478.5,259.0 L478.7,258.8 L479.0,258.6 L479.2,258.5 L479.5,258.3 L479.7,258.1 L480.0,258.0 L480.2,257.8 L480.5,257.6 L480.8,257.4 L481.0,257.3 L481.3,257.1 L481.5,256.9 L481.8,256.7 L482.0,256.5 L482.3,256.4 L482.5,256.2 L482.8,256.0 L483.1,255.8 L483.3,255.6 L483.6,255.5 L483.8,255.3 L484.1,255.1 L484.3,254.9 L484.6,254.7 L484.9,254.6 L485.1,254.4 L485.4,254.2 L485.6,254.0 L485.9,253.8 L486.2,253.7 L486.4,253.5 L486.7,253.3 L486.9,253.1 L487.2,252.9 L487.4,252.8 L487.7,252.6 L488.0,252.4 L488.2,252.2 L488.5,252.0 L488.8,251.9 L489.0,251.7 L489.3,251.5 L489.5,251.3 L489.8,251.1 L490.1,251.0 L490.3,250.8 L490.6,250.6 L490.8,250.4 L491.1,250.3 L491.4,250.1 L491.6,249.9 L491.9,249.7 L492.2,249.6 L492.4,249.4 L492.7,249.2 L492.9,249.0 L493.2,248.9 L493.5,248.7 L493.7,248.5 L494.0,248.3 L494.3,248.2 L494.5,248.0 L494.8,247.8 L495.1,247.7 L495.3,247.5 L495.6,247.3 L495.9,247.2 L496.1,247.0 L496.4,246.8 L496.7,246.7 L496.9,246.5 L497.2,246.4 L497.5,246.2 L497.7,246.0 L498.0,245.9 L498.3,245.7 L498.5,245.6 L498.8,245.4 L499.1,245.2 L499.3,245.1 L499.6,244.9 L499.9,244.8 L500.1,244.6 L500.4,244.5 L500.7,244.3 L501.0,244.2 L501.2,244.0 L501.5,243.9 L501.8,243.7 L502.0,243.6 L502.3,243.5 L502.6,243.3 L502.9,243.2 L503.1,243.0 L503.4,242.9 L503.7,242.8 L503.9,242.6 L504.2,242.5 L504.5,242.4 L504.8,242.3 L505.0,242.1 L505.3,242.0 L505.6,241.9 L505.9,241.8 L506.1,241.6 L506.4,241.5 L506.7,241.4 L507.0,241.3 L507.2,241.2 L507.5,241.0 L507.8,240.9 L508.1,240.8 L508.3,240.7 L508.6,240.6 L508.9,240.5 L509.2,240.4 L509.4,240.3 L509.7,240.2 L510.0,240.1 L510.3,240.0 L510.6,239.9 L510.8,239.8 L511.1,239.7 L511.4,239.6 L511.7,239.6 L512.0,239.5 L512.2,239.4 L512.5,239.3 L512.8,239.2 L513.1,239.2 L513.4,239.1 L513.6,239.0 L513.9,238.9 L514.2,238.9 L514.5,238.8 L514.8,238.8 L515.0,238.7 L515.3,238.6 L515.6,238.6 L515.9,238.5 L516.2,238.5 L516.5,238.4 L516.7,238.4 L517.0,238.3 L517.3,238.3 L517.6,238.3 L517.9,238.2 L518.2,238.2 L518.5,238.1 L518.7,238.1 L519.0,238.1 L519.3,238.1 L519.6,238.0 L519.9,238.0 L520.2,238.0 L520.5,238.0 L520.8,238.0 L521.0,238.0 L521.3,238.0 L521.6,238.0 L521.9,238.0 L522.2,238.0 L522.5,238.0 L522.8,238.0 L523.1,238.0 L523.4,238.0 L523.6,238.0 L523.9,238.0 L524.2,238.1 L524.5,238.1 L524.8,238.1 L525.1,238.2 L525.4,238.2 L525.7,238.2 L526.0,238.3 L526.3,238.3 L526.6,238.4 L526.9,238.4 L527.2,238.5 L527.4,238.5 L527.7,238.6 L528.0,238.6 L528.3,238.7 L528.6,238.8 L528.9,238.8 L529.2,238.9 L529.5,239.0 L529.8,239.1 L530.1,239.2 L530.4,239.2 L530.7,239.3 L531.0,239.4 L531.3,239.5 L531.6,239.6 L531.9,239.7 L532.2,239.9 L532.5,240.0 L532.8,240.1 L533.1,240.2" fill="none" stroke="#0c5a78" stroke-width="4.7" stroke-linecap="round" stroke-linejoin="round"/>
<path d="M533.1,240.2 L532.6,240.4 L532.1,240.7 L531.6,240.9 L531.2,241.1 L530.7,241.4 L530.3,241.7 L529.8,241.9 L529.4,242.2 L529.0,242.5 L528.5,242.8 L528.1,243.1 L527.7,243.4 L527.3,243.7 L527.0,244.0 L526.6,244.3 L526.2,244.7 L525.8,245.0 L525.5,245.3 L525.1,245.7 L524.8,246.0 L524.5,246.4 L524.1,246.7 L523.8,247.1 L523.5,247.5 L523.2,247.9 L522.9,248.2 L522.6,248.6 L522.3,249.0 L522.0,249.4 L521.8,249.8 L521.5,250.2 L521.2,250.6 L521.0,251.1 L520.7,251.5 L520.5,251.9 L520.3,252.3 L520.0,252.8 L519.8,253.2 L519.6,253.6 L519.4,254.1 L519.2,254.5 L518.9,255.0 L518.7,255.4 L518.6,255.9 L518.4,256.4 L518.2,256.8 L518.0,257.3 L517.8,257.8 L517.7,258.3 L517.5,258.7 L517.3,259.2 L517.2,259.7 L517.0,260.2 L516.9,260.7 L516.7,261.2 L516.6,261.7 L516.5,262.2 L516.3,262.7 L516.2,263.2 L516.1,263.7 L516.0,264.2 L515.8,264.7 L515.7,265.2 L515.6,265.7 L515.5,266.3 L515.4,266.8 L515.3,267.3 L515.2,267.8 L515.1,268.3 L515.0,268.9 L514.9,269.4 L514.9,269.9 L514.8,270.5 L514.7,271.0 L514.6,271.5 L514.6,272.1 L514.5,272.6 L514.4,273.1 L514.4,273.7 L514.3,274.2 L514.2,274.8 L514.2,275.3 L514.1,275.8 L514.1,276.4 L514.0,276.9 L514.0,277.5 L513.9,278.0 L513.9,278.6 L513.8,279.1 L513.8,279.6 L513.7,280.2 L513.7,280.7 L513.7,281.3 L513.6,281.8 L513.6,282.4 L513.6,282.9 L513.5,283.4 L513.5,284.0 L513.5,284.5 L513.4,285.1 L513.4,285.6 L513.4,286.2 L513.4,286.7 L513.3,287.3 L513.3,287.8 L513.3,288.3 L513.3,288.9 L513.3,289.4 L513.2,290.0 L513.2,290.5 L513.2,291.1 L513.2,291.6 L513.2,292.1 L513.2,292.7 L513.2,293.2 L513.2,293.8 L513.2,294.3 L513.2,294.8 L513.2,295.4 L513.2,295.9 L513.2,296.5 L513.2,297.0 L513.2,297.5 L513.2,298.1 L513.2,298.6 L513.2,299.2 L513.2,299.7 L513.2,300.2 L513.2,300.8 L513.2,301.3 L513.3,301.9 L513.3,302.4 L513.3,302.9 L513.3,303.5 L513.3,304.0 L513.4,304.6 L513.4,305.1 L513.4,305.6 L513.5,306.2 L513.5,306.7 L513.5,307.2 L513.6,307.8 L513.6,308.3 L513.6,308.8 L513.7,309.4 L513.7,309.9 L513.8,310.4 L513.8,311.0 L513.9,311.5 L513.9,312.1 L514.0,312.6 L514.0,313.1 L514.1,313.7 L514.2,314.2 L514.2,314.7 L514.3,315.2 L514.3,315.8 L514.4,316.3 L514.5,316.8 L514.6,317.4 L514.6,317.9 L514.7,318.4 L514.8,319.0 L514.9,319.5 L514.9,320.0 L515.0,320.6 L515.1,321.1 L515.2,321.6 L515.3,322.1 L515.4,322.7 L515.5,323.2 L515.6,323.7 L515.7,324.3 L515.7,324.8 L515.9,325.3 L516.0,325.8 L516.1,326.4 L516.2,326.9 L516.3,327.4 L516.4,327.9 L516.5,328.5 L516.6,329.0 L516.7,329.5 L516.9,330.0 L517.0,330.5 L517.1,331.1 L517.2,331.6 L517.4,332.1 L517.5,332.6 L517.6,333.1 L517.8,333.7 L517.9,334.2 L518.0,334.7 L518.2,335.2 L518.3,335.7 L518.5,336.3 L518.6,336.8 L518.8,337.3 L518.9,337.8 L519.1,338.3 L519.2,338.8 L519.4,339.4 L519.6,339.9 L519.7,340.4 L519.9,340.9 L520.1,341.4 L520.3,341.9 L520.4,342.4 L520.6,342.9 L520.8,343.5 L521.0,344.0 L521.2,344.5 L521.3,345.0 L521.5,345.5 L521.7,346.0 L521.9,346.5 L522.1,347.0 L522.3,347.5 L522.5,348.0 L522.7,348.5 L522.9,349.0 L523.1,349.5 L523.3,350.0 L523.5,350.5 L523.8,351.0 L524.0,351.5 L524.2,352.0 L524.4,352.5 L524.6,353.0 L524.9,353.5 L525.1,354.0 L525.3,354.5 L525.6,354.9 L525.8,355.4 L526.0,355.9 L526.3,356.4 L526.5,356.9 L526.7,357.4 L527.0,357.8 L527.2,358.3 L527.5,358.8 L527.7,359.3 L528.0,359.7 L528.3,360.2 L528.5,360.7 L528.8,361.2 L529.0,361.6 L529.3,362.1 L529.6,362.6 L529.8,363.0 L530.1,363.5 L530.4,363.9 L530.7,364.4 L531.0,364.9 L531.2,365.3 L531.5,365.8 L531.8,366.2 L532.1,366.7 L532.4,367.1 L532.7,367.6 L533.0,368.0 L533.3,368.4 L533.6,368.9 L533.9,369.3 L534.2,369.8 L534.5,370.2 L534.8,370.6 L535.1,371.1 L535.4,371.5 L535.7,371.9 L536.0,372.3 L536.4,372.8 L536.7,373.2 L537.0,373.6 L537.3,374.0 L537.7,374.4 L538.0,374.8 L538.3,375.2 L538.7,375.6 L539.0,376.1 L539.3,376.5 L539.7,376.9 L540.0,377.3 L540.4,377.6 L540.7,378.0 L541.1,378.4 L541.4,378.8 L541.8,379.2 L542.1,379.6 L542.5,380.0 L542.8,380.3 L543.2,380.7 L543.6,381.1 L543.9,381.5 L544.3,381.8 L544.7,382.2 L545.0,382.6 L545.4,382.9 L545.8,383.3 L546.2,383.6 L546.6,384.0 L546.9,384.3 L547.3,384.7 L547.7,385.0 L548.1,385.4 L548.5,385.7 L548.9,386.0 L549.3,386.4 L549.7,386.7 L550.1,387.0 L550.5,387.3 L550.9,387.7 L551.3,388.0 L551.7,388.3 L552.1,388.6 L552.5,388.9 L553.0,389.2 L553.4,389.5 L553.8,389.8 L554.2,390.1 L554.6,390.4 L555.1,390.7 L555.5,391.0 L555.9,391.2 L556.4,391.5 L556.8,391.8 L557.2,392.1 L557.7,392.3 L558.1,392.6 L558.6,392.9 L559.0,393.1 L559.5,393.4 L559.9,393.6 L560.4,393.9 L560.8,394.1 L561.3,394.4 L561.7,394.6 L562.2,394.8 L562.6,395.1 L563.1,395.3 L563.6,395.5 L564.0,395.7 L564.5,395.9 L565.0,396.2 L565.5,396.4 L565.9,396.6 L566.4,396.8 L566.9,397.0 L567.4,397.2 L567.9,397.3 L568.4,397.5 L568.8,397.7 L569.3,397.9 L569.8,398.1 L570.3,398.2 L570.8,398.4 L571.3,398.6 L571.8,398.7 L572.3,398.9 L572.8,399.0 L573.3,399.2 L573.8,399.3 L574.4,399.4 L574.9,399.6 L575.4,399.7 L575.9,399.8 L576.4,399.9 L576.9,400.1 L577.5,400.2 L578.0,400.3 L578.5,400.4 L579.0,400.5 L579.6,400.6 L580.1,400.7 L580.6,400.7 L581.2,400.8 L581.7,400.9 L582.3,401.0 L582.8,401.0 L583.4,401.1 L583.9,401.2 L584.5,401.2 L585.0,401.3 L585.6,401.3 L586.1,401.3 L586.7,401.4 L587.2,401.4 L587.8,401.4 L588.4,401.5 L588.9,401.5 L589.5,401.5 L590.1,401.5 L590.6,401.5 L591.2,401.5 L591.8,401.5 L592.4,401.5 L592.9,401.5 L593.5,401.4 L594.1,401.4" fill="none" stroke="#0c5a78" stroke-width="4.7" stroke-linecap="round" stroke-linejoin="round"/>
<path d="M594.1,401.4 L594.1,402.1 L594.0,402.8 L594.0,403.6 L593.9,404.3 L593.9,405.0 L593.8,405.7 L593.8,406.5 L593.7,407.2 L593.7,407.9 L593.7,408.6 L593.6,409.3 L593.6,410.1 L593.6,410.8 L593.5,411.5 L593.5,412.2 L593.5,413.0 L593.4,413.7 L593.4,414.4 L593.4,415.1 L593.4,415.9 L593.3,416.6 L593.3,417.3 L593.3,418.0 L593.3,418.8 L593.3,419.5 L593.2,420.2 L593.2,421.0 L593.2,421.7 L593.2,422.4 L593.2,423.1 L593.2,423.9 L593.2,424.6 L593.2,425.3 L593.2,426.0 L593.2,426.8 L593.2,427.5 L593.2,428.2 L593.2,429.0 L593.2,429.7 L593.2,430.4 L593.2,431.1 L593.2,431.9 L593.2,432.6 L593.2,433.3 L593.2,434.0 L593.2,434.8 L593.2,435.5 L593.3,436.2 L593.3,437.0 L593.3,437.7 L593.3,438.4 L593.3,439.1 L593.4,439.9 L593.4,440.6 L593.4,441.3 L593.4,442.1 L593.5,442.8 L593.5,443.5 L593.5,444.2 L593.6,445.0 L593.6,445.7 L593.6,446.4 L593.7,447.2 L593.7,447.9 L593.7,448.6 L593.8,449.3 L593.8,450.1 L593.9,450.8 L593.9,451.5 L594.0,452.3 L594.0,453.0 L594.1,453.7 L594.1,454.4 L594.2,455.2 L594.2,455.9 L594.3,456.6 L594.3,457.3 L594.4,458.1 L594.4,458.8 L594.5,459.5 L594.6,460.3 L594.6,461.0 L594.7,461.7 L594.8,462.4 L594.8,463.2 L594.9,463.9 L595.0,464.6 L595.0,465.3 L595.1,466.1 L595.2,466.8 L595.3,467.5 L595.4,468.2 L595.4,469.0 L595.5,469.7 L595.6,470.4 L595.7,471.1 L595.8,471.9 L595.9,472.6 L596.0,473.3 L596.0,474.0 L596.1,474.8 L596.2,475.5 L596.3,476.2 L596.4,476.9 L596.5,477.7 L596.6,478.4 L596.7,479.1 L596.8,479.8 L596.9,480.5 L597.0,481.3 L597.1,482.0 L597.3,482.7 L597.4,483.4 L597.5,484.2 L597.6,484.9 L597.7,485.6 L597.8,486.3 L597.9,487.0 L598.1,487.8 L598.2,488.5 L598.3,489.2 L598.4,489.9 L598.5,490.6 L598.7,491.3 L598.8,492.1 L598.9,492.8 L599.1,493.5 L599.2,494.2 L599.3,494.9 L599.5,495.6 L599.6,496.4 L599.7,497.1 L599.9,497.8 L600.0,498.5 L600.2,499.2 L600.3,499.9 L600.5,500.6 L600.6,501.4 L600.8,502.1 L600.9,502.8 L601.1,503.5 L601.2,504.2 L601.4,504.9 L601.5,505.6 L601.7,506.3 L601.9,507.0 L602.0,507.8 L602.2,508.5 L602.3,509.2 L602.5,509.9 L602.7,510.6 L602.9,511.3 L603.0,512.0 L603.2,512.7 L603.4,513.4 L603.6,514.1 L603.7,514.8 L603.9,515.5 L604.1,516.2 L604.3,516.9 L604.5,517.6 L604.6,518.3 L604.8,519.0 L605.0,519.7 L605.2,520.4 L605.4,521.1 L605.6,521.8 L605.8,522.5 L606.0,523.2 L606.2,523.9 L606.4,524.6 L606.6,525.3 L606.8,526.0 L607.0,526.7 L607.2,527.4 L607.4,528.1 L607.6,528.8 L607.8,529.5 L608.0,530.2 L608.3,530.9 L608.5,531.6 L608.7,532.3 L608.9,533.0 L609.1,533.7 L609.3,534.3 L609.6,535.0 L609.8,535.7 L610.0,536.4 L610.3,537.1 L610.5,537.8 L610.7,538.5 L610.9,539.2 L611.2,539.8 L611.4,540.5 L611.7,541.2 L611.9,541.9 L612.1,542.6 L612.4,543.3 L612.6,543.9 L612.9,544.6 L613.1,545.3 L613.4,546.0 L613.6,546.7 L613.9,547.3 L614.1,548.0 L614.4,548.7 L614.6,549.4 L614.9,550.0 L615.2,550.7 L615.4,551.4 L615.7,552.1 L616.0,552.7 L616.2,553.4 L616.5,554.1 L616.8,554.7 L617.0,555.4 L617.3,556.1 L617.6,556.7 L617.9,557.4 L618.1,558.1 L618.4,558.7 L618.7,559.4 L619.0,560.1 L619.3,560.7 L619.6,561.4 L619.8,562.1 L620.1,562.7 L620.4,563.4 L620.7,564.0 L621.0,564.7 L621.3,565.3 L621.6,566.0 L621.9,566.7 L622.2,567.3 L622.5,568.0 L622.8,568.6 L623.1,569.3 L623.4,569.9 L623.7,570.6 L624.1,571.2 L624.4,571.9 L624.7,572.5 L625.0,573.2 L625.3,573.8 L625.6,574.5 L626.0,575.1 L626.3,575.7 L626.6,576.4 L626.9,577.0 L627.3,577.7 L627.6,578.3 L627.9,579.0 L628.3,579.6 L628.6,580.2 L628.9,580.9 L629.3,581.5 L629.6,582.1 L630.0,582.8 L630.3,583.4 L630.6,584.0 L631.0,584.7 L631.3,585.3 L631.7,585.9 L632.0,586.5 L632.4,587.2 L632.8,587.8 L633.1,588.4 L633.5,589.1 L633.8,589.7 L634.2,590.3 L634.6,590.9 L634.9,591.5 L635.3,592.2 L635.7,592.8 L636.0,593.4 L636.4,594.0 L636.8,594.6 L637.2,595.2 L637.5,595.8 L637.9,596.5 L638.3,597.1 L638.7,597.7 L639.1,598.3 L639.4,598.9 L639.8,599.5 L640.2,600.1 L640.6,600.7 L641.0,601.3 L641.4,601.9 L641.8,602.5 L642.2,603.1 L642.6,603.7 L643.0,604.3 L643.4,604.9 L643.8,605.5 L644.2,606.1 L644.6,606.7 L645.0,607.3 L645.5,607.9 L645.9,608.5 L646.3,609.1 L646.7,609.6 L647.1,610.2 L647.5,610.8 L648.0,611.4 L648.4,612.0 L648.8,612.6 L649.2,613.1 L649.7,613.7 L650.1,614.3 L650.5,614.9 L651.0,615.5 L651.4,616.0 L651.8,616.6 L652.3,617.2 L652.7,617.8 L653.2,618.3 L653.6,618.9 L654.1,619.5 L654.5,620.0 L655.0,620.6 L655.4,621.2 L655.9,621.7 L656.3,622.3 L656.8,622.8 L657.3,623.4 L657.7,624.0 L658.2,624.5 L658.6,625.1 L659.1,625.6 L659.6,626.2 L660.0,626.7 L660.5,627.3 L661.0,627.8 L661.5,628.4 L661.9,628.9 L662.4,629.5 L662.9,630.0 L663.4,630.5 L663.9,631.1 L664.4,631.6 L664.9,632.2 L665.3,632.7 L665.8,633.2 L666.3,633.8 L666.8,634.3 L667.3,634.8 L667.8,635.4 L668.3,635.9 L668.8,636.4 L669.3,637.0 L669.8,637.5 L670.3,638.0 L670.9,638.5 L671.4,639.0 L671.9,639.6 L672.4,640.1 L672.9,640.6 L673.4,641.1 L674.0,641.6 L674.5,642.1 L675.0,642.6 L675.5,643.2 L676.1,643.7 L676.6,644.2 L677.1,644.7 L677.6,645.2 L678.2,645.7 L678.7,646.2 L679.3,646.7 L679.8,647.2 L680.3,647.7 L680.9,648.2 L681.4,648.7 L682.0,649.2 L682.5,649.6 L683.1,650.1 L683.6,650.6 L684.2,651.1 L684.8,651.6 L685.3,652.1 L685.9,652.6 L686.4,653.0 L687.0,653.5 L687.6,654.0 L688.1,654.5 L688.7,654.9 L689.3,655.4 L689.9,655.9 L690.4,656.3 L691.0,656.8 L691.6,657.3 L692.2,657.7 L692.8,658.2 L693.3,658.7 L693.9,659.1 L694.5,659.6 L695.1,660.0 L695.7,660.5" fill="none" stroke="#0c5a78" stroke-width="4.7" stroke-linecap="round" stroke-linejoin="round"/>
<path d="M695.7,660.5 L695.2,661.1 L694.7,661.8 L694.2,662.4 L693.8,663.0 L693.4,663.6 L693.0,664.3 L692.6,664.9 L692.2,665.5 L691.9,666.1 L691.6,666.7 L691.3,667.3 L691.0,667.9 L690.8,668.5 L690.6,669.1 L690.3,669.7 L690.2,670.3 L690.0,670.9 L689.8,671.5 L689.7,672.0 L689.6,672.6 L689.5,673.2 L689.4,673.8 L689.4,674.3 L689.3,674.9 L689.3,675.5 L689.3,676.0 L689.3,676.6 L689.3,677.1 L689.4,677.7 L689.4,678.2 L689.5,678.8 L689.6,679.3 L689.7,679.9 L689.8,680.4 L690.0,680.9 L690.1,681.5 L690.3,682.0 L690.5,682.5 L690.7,683.0 L690.9,683.5 L691.1,684.1 L691.4,684.6 L691.6,685.1 L691.9,685.6 L692.2,686.1 L692.4,686.6 L692.8,687.1 L693.1,687.6 L693.4,688.1 L693.7,688.6 L694.1,689.0 L694.4,689.5 L694.8,690.0 L695.2,690.5 L695.6,691.0 L696.0,691.4 L696.4,691.9 L696.8,692.4 L697.2,692.8 L697.7,693.3 L698.1,693.7 L698.6,694.2 L699.0,694.6 L699.5,695.1 L700.0,695.5 L700.4,696.0 L700.9,696.4 L701.4,696.8 L701.9,697.3 L702.4,697.7 L703.0,698.1 L703.5,698.6 L704.0,699.0 L704.5,699.4 L705.1,699.8 L705.6,700.2 L706.2,700.6 L706.7,701.0 L707.3,701.4 L707.8,701.8 L708.4,702.2 L709.0,702.6 L709.6,703.0 L710.1,703.4 L710.7,703.8 L711.3,704.2 L711.9,704.6 L712.4,704.9 L713.0,705.3 L713.6,705.7 L714.2,706.1 L714.8,706.4 L715.4,706.8 L716.0,707.2 L716.6,707.5 L717.2,707.9 L717.7,708.2 L718.3,708.6 L718.9,708.9 L719.5,709.3 L720.1,709.6 L720.7,709.9 L721.3,710.3 L721.9,710.6 L722.5,710.9 L723.1,711.3 L723.7,711.6 L724.2,711.9 L724.8,712.2 L725.4,712.6 L726.0,712.9 L726.6,713.2 L727.2,713.5 L727.8,713.8 L728.4,714.1 L729.0,714.4 L729.6,714.7 L730.2,715.0 L730.8,715.3 L731.4,715.6 L732.0,715.9 L732.6,716.2 L733.1,716.5 L733.7,716.7 L734.3,717.0 L734.9,717.3 L735.5,717.6 L736.1,717.9 L736.7,718.1 L737.3,718.4 L737.9,718.7 L738.5,719.0 L739.1,719.2 L739.7,719.5 L740.3,719.8 L740.9,720.0 L741.5,720.3 L742.1,720.5 L742.7,720.8 L743.3,721.0 L743.9,721.3 L744.5,721.5 L745.1,721.8 L745.7,722.0 L746.3,722.3 L746.9,722.5 L747.5,722.8 L748.1,723.0 L748.7,723.2 L749.3,723.5 L749.9,723.7 L750.5,724.0 L751.1,724.2 L751.7,724.4 L752.3,724.6 L752.9,724.9 L753.5,725.1 L754.1,725.3 L754.7,725.6 L755.3,725.8 L756.0,726.0 L756.6,726.2 L757.2,726.4 L757.8,726.7 L758.4,726.9 L759.0,727.1 L759.6,727.3 L760.2,727.5 L760.8,727.7 L761.4,727.9 L762.0,728.1 L762.6,728.4 L763.2,728.6 L763.8,728.8 L764.5,729.0 L765.1,729.2 L765.7,729.4 L766.3,729.6 L766.9,729.8 L767.5,730.0 L768.1,730.2 L768.7,730.4 L769.3,730.6 L770.0,730.8 L770.6,731.0 L771.2,731.2 L771.8,731.4 L772.4,731.6 L773.0,731.8 L773.6,732.0 L774.2,732.2 L774.9,732.3 L775.5,732.5 L776.1,732.7 L776.7,732.9 L777.3,733.1 L777.9,733.3 L778.6,733.5 L779.2,733.7 L779.8,733.9 L780.4,734.1 L781.0,734.3 L781.6,734.4 L782.3,734.6 L782.9,734.8 L783.5,735.0 L784.1,735.2 L784.7,735.4 L785.4,735.6 L786.0,735.8 L786.6,735.9 L787.2,736.1 L787.8,736.3 L788.5,736.5 L789.1,736.7 L789.7,736.9 L790.3,737.0 L791.0,737.2 L791.6,737.4 L792.2,737.6 L792.8,737.8 L793.5,738.0 L794.1,738.1 L794.7,738.3 L795.3,738.5 L796.0,738.7 L796.6,738.9 L797.2,739.0 L797.8,739.2 L798.5,739.4 L799.1,739.6 L799.7,739.8 L800.4,739.9 L801.0,740.1 L801.6,740.3 L802.3,740.5 L802.9,740.6 L803.5,740.8 L804.1,741.0 L804.8,741.1 L805.4,741.3 L806.0,741.5 L806.7,741.6 L807.3,741.8 L807.9,742.0 L808.6,742.1 L809.2,742.3 L809.8,742.5 L810.5,742.6 L811.1,742.8 L811.7,743.0 L812.4,743.1 L813.0,743.3 L813.7,743.4 L814.3,743.6 L814.9,743.7 L815.6,743.9 L816.2,744.0 L816.8,744.2 L817.5,744.3 L818.1,744.5 L818.8,744.6 L819.4,744.8 L820.0,744.9 L820.7,745.1 L821.3,745.2 L822.0,745.4 L822.6,745.5 L823.2,745.6 L823.9,745.8 L824.5,745.9 L825.2,746.0 L825.8,746.2 L826.4,746.3 L827.1,746.4 L827.7,746.6 L828.4,746.7 L829.0,746.8 L829.7,747.0 L830.3,747.1 L830.9,747.2 L831.6,747.3 L832.2,747.4 L832.9,747.5 L833.5,747.7 L834.2,747.8 L834.8,747.9 L835.5,748.0 L836.1,748.1 L836.8,748.2 L837.4,748.3 L838.1,748.4 L838.7,748.5 L839.4,748.6 L840.0,748.7 L840.7,748.8 L841.3,748.9 L842.0,749.0 L842.6,749.1 L843.3,749.2 L843.9,749.3 L844.6,749.4 L845.2,749.4 L845.9,749.5 L846.5,749.6 L847.2,749.7 L847.8,749.7 L848.5,749.8 L849.1,749.9 L849.8,750.0 L850.4,750.0 L851.1,750.1 L851.7,750.1 L852.4,750.2 L853.1,750.3 L853.7,750.3 L854.4,750.4 L855.0,750.4 L855.7,750.5 L856.3,750.5 L857.0,750.6 L857.7,750.6 L858.3,750.6 L859.0,750.7 L859.6,750.7 L860.3,750.7 L860.9,750.8 L861.6,750.8 L862.3,750.8 L862.9,750.9 L863.6,750.9 L864.2,750.9 L864.9,750.9 L865.6,750.9 L866.2,750.9 L866.9,750.9 L867.5,750.9 L868.2,750.9 L868.9,750.9 L869.5,750.9 L870.2,750.9 L870.8,750.9 L871.5,750.9 L872.1,750.8 L872.8,750.8 L873.4,750.8 L874.1,750.7 L874.7,750.7 L875.4,750.6 L876.0,750.6 L876.7,750.5 L877.3,750.4 L877.9,750.3 L878.6,750.3 L879.2,750.2 L879.8,750.1 L880.5,750.0 L881.1,749.9 L881.7,749.7 L882.3,749.6 L882.9,749.5 L883.6,749.4 L884.2,749.2 L884.8,749.1 L885.4,748.9 L886.0,748.7 L886.6,748.6 L887.2,748.4 L887.8,748.2 L888.4,748.0 L888.9,747.8 L889.5,747.6 L890.1,747.3 L890.7,747.1 L891.2,746.9 L891.8,746.6 L892.4,746.3 L892.9,746.1 L893.5,745.8 L894.0,745.5 L894.5,745.2 L895.1,744.9 L895.6,744.5 L896.1,744.2 L896.6,743.9 L897.2,743.5 L897.7,743.1 L898.2,742.8 L898.7,742.4 L899.2,742.0 L899.6,741.5 L900.1,741.1 L900.6,740.7 L901.1,740.2 L901.5,739.8 L902.0,739.3 L902.4,738.8 L902.9,738.3 L903.3,737.8" fill="none" stroke="#0c5a78" stroke-width="4.7" stroke-linecap="round" stroke-linejoin="round"/>
<circle cx="198" cy="103" r="6.3" fill="#f8bd45" stroke="#fffae6" stroke-width="1.1"/>
<circle cx="390" cy="167" r="6.3" fill="#f8bd45" stroke="#fffae6" stroke-width="1.1"/>
<circle cx="433" cy="256" r="6.3" fill="#f8bd45" stroke="#fffae6" stroke-width="1.1"/>
<circle cx="533" cy="240" r="6.3" fill="#f8bd45" stroke="#fffae6" stroke-width="1.1"/>
<circle cx="594" cy="401" r="6.3" fill="#f8bd45" stroke="#fffae6" stroke-width="1.1"/>
<circle cx="696" cy="660" r="6.3" fill="#f8bd45" stroke="#fffae6" stroke-width="1.1"/>
<path d="M371.40,152.30 L358.11,133.91 A16.40,16.40 0 1 1 384.69,133.91 Z" fill="#538487" stroke="#fff" stroke-width="1.6" stroke-linejoin="miter"/>
<path d="M903.00,738.60 L889.47,718.87 A16.40,16.40 0 1 1 916.53,718.87 Z" fill="#538487" stroke="#fff" stroke-width="1.6" stroke-linejoin="miter"/>
<circle cx="783.5" cy="734.3" r="15.8" fill="#fff" stroke="#1d4b58" stroke-width="1.6"/>
<path d="M778.6,727.9 H788.4 L781.6,743" fill="none" stroke="#15495a" stroke-width="2.7" stroke-linejoin="miter"/>
<text x="88.4" y="57.1" font-size="21.2" fill="#7d9799" textLength="154.5" lengthAdjust="spacingAndGlyphs" stroke="#fff" stroke-width="0.3">BRITISH VIRGIN</text>
<text x="120.5" y="80.7" font-size="21.2" fill="#7d9799" textLength="89.5" lengthAdjust="spacingAndGlyphs" stroke="#fff" stroke-width="0.3">ISLANDS</text>
<text x="382.6" y="52" font-size="21.2" fill="#7d9799" textLength="47.4" lengthAdjust="spacingAndGlyphs" stroke="#fff" stroke-width="0.3">SINT</text>
<text x="358.0" y="75.3" font-size="21.2" fill="#7d9799" textLength="102.6" lengthAdjust="spacingAndGlyphs" stroke="#fff" stroke-width="0.3">MAARTEN</text>
<text x="296.4" y="100.9" font-size="22.8" fill="#000000" textLength="111.8" lengthAdjust="spacingAndGlyphs" stroke="#fff" stroke-width="0.35">Philipsburg</text>
<text x="496.2" y="127" font-size="21.2" fill="#7d9799" textLength="61.0" lengthAdjust="spacingAndGlyphs" stroke="#fff" stroke-width="0.3">SAINT</text>
<text x="457.6" y="149.6" font-size="21.2" fill="#7d9799" textLength="139.5" lengthAdjust="spacingAndGlyphs" stroke="#fff" stroke-width="0.3">BARTHÉLEMY</text>
<text x="130.2" y="127.8" font-size="22.8" fill="#000000" textLength="57.9" lengthAdjust="spacingAndGlyphs" stroke="#fff" stroke-width="0.35">Virgin</text>
<text x="128.9" y="151.1" font-size="22.8" fill="#000000" textLength="58.4" lengthAdjust="spacingAndGlyphs" stroke="#fff" stroke-width="0.35">Gorda</text>
<text x="410.1" y="174.4" font-size="22.8" fill="#000000" textLength="83.5" lengthAdjust="spacingAndGlyphs" stroke="#fff" stroke-width="0.35">Gustavia</text>
<text x="302.9" y="279.4" font-size="22.8" fill="#000000" textLength="122.8" lengthAdjust="spacingAndGlyphs" stroke="#fff" stroke-width="0.35">Charlestown</text>
<text x="314.4" y="311.1" font-size="21.2" fill="#7d9799" textLength="124.6" lengthAdjust="spacingAndGlyphs" stroke="#fff" stroke-width="0.3">SAINT KITTS</text>
<text x="337.2" y="334.7" font-size="21.2" fill="#7d9799" textLength="80.3" lengthAdjust="spacingAndGlyphs" stroke="#fff" stroke-width="0.3">& NEVIS</text>
<text x="545.7" y="246.9" font-size="22.8" fill="#000000" textLength="119.5" lengthAdjust="spacingAndGlyphs" stroke="#fff" stroke-width="0.35">Saint John’s</text>
<text x="595.7" y="275.2" font-size="21.2" fill="#7d9799" textLength="92.1" lengthAdjust="spacingAndGlyphs" stroke="#fff" stroke-width="0.3">ANTIGUA</text>
<text x="585.1" y="298.1" font-size="21.2" fill="#7d9799" textLength="117.8" lengthAdjust="spacingAndGlyphs" stroke="#fff" stroke-width="0.3">& BARBUDA</text>
<text x="421.9" y="428.7" font-size="22.8" fill="#000000" textLength="150.0" lengthAdjust="spacingAndGlyphs" stroke="#fff" stroke-width="0.35">Îles des Saintes</text>
<text x="423.1" y="459.5" font-size="21.2" fill="#7d9799" textLength="140.9" lengthAdjust="spacingAndGlyphs" stroke="#fff" stroke-width="0.3">GUADELOUPE</text>
<text x="208.2" y="521.4" font-size="22.5" fill="#2f6276" textLength="130.4" lengthAdjust="spacingAndGlyphs" font-style="italic" stroke="#fff" stroke-width="0.35">Caribbean Sea</text>
<text x="755.2" y="482.1" font-size="22.5" fill="#2f6276" textLength="131.8" lengthAdjust="spacingAndGlyphs" font-style="italic" stroke="#fff" stroke-width="0.35">Atlantic Ocean</text>
<text x="511.0" y="636.9" font-size="21.2" fill="#7d9799" textLength="127.0" lengthAdjust="spacingAndGlyphs" stroke="#fff" stroke-width="0.3">SAINT LUCIA</text>
<text x="584.8" y="667.4" font-size="22.8" fill="#000000" textLength="91.2" lengthAdjust="spacingAndGlyphs" stroke="#fff" stroke-width="0.35">Soufrière</text>
<text x="939.2" y="720.5" font-size="21.2" fill="#7d9799" textLength="113.4" lengthAdjust="spacingAndGlyphs" stroke="#fff" stroke-width="0.3">BARBADOS</text>
<text x="921.8" y="750.6" font-size="22.8" fill="#000000" textLength="116.4" lengthAdjust="spacingAndGlyphs" stroke="#fff" stroke-width="0.35">Bridgetown</text>
</svg></body></html>
